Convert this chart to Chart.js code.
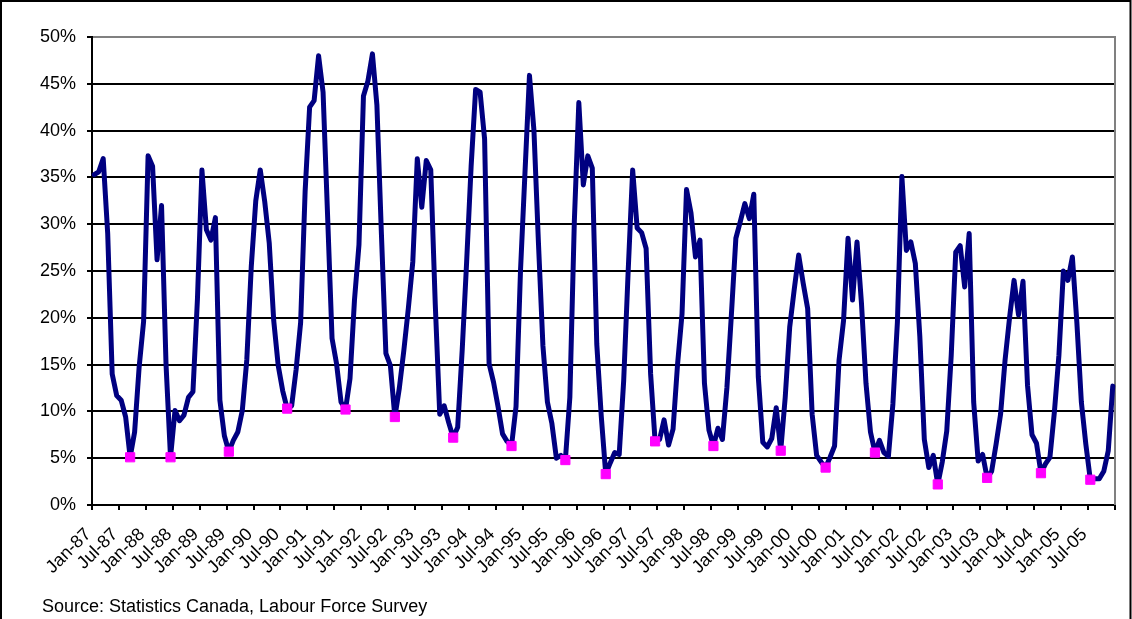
<!DOCTYPE html>
<html>
<head>
<meta charset="utf-8">
<script src="https://cdn.jsdelivr.net/npm/chart.js@4.4.1/dist/chart.umd.min.js"></script>
<style>
  html,body{margin:0;padding:0;background:#fff}
  #wrap{position:relative;width:1132px;height:619px;overflow:hidden;background:#fff}
  #ch{display:block}
  .fuente{position:absolute;left:42px;top:597px;font:18px/18px 'Liberation Sans',Arial,sans-serif;color:#000;white-space:nowrap}
</style>
</head>
<body>
<div id="wrap">
  <canvas id="ch" width="1132" height="619"></canvas>
  <div class="fuente">Source: Statistics Canada, Labour Force Survey</div>
</div>
<script>
// ---- datos: tasa mensual, ene-1987 a dic-2005 ----
const years=['87','88','89','90','91','92','93','94','95','96','97','98','99','00','01','02','03','04','05'];
const months=['Jan','Feb','Mar','Apr','May','Jun','Jul','Aug','Sep','Oct','Nov','Dec'];
const rate=[
  35.3,35.6,37.0,29.0,14.0,11.7,11.2, 9.4, 5.1, 7.8,14.7,19.6, // 1987
  37.3,36.2,26.2,32.0,15.0, 5.1,10.1, 9.0, 9.6,11.5,12.1,22.0, // 1988
  35.8,29.4,28.3,30.7,11.2, 7.4, 5.7, 6.9, 7.8,10.1,15.5,25.5, // 1989
  32.5,35.8,32.4,28.0,19.7,14.9,12.2,10.3,10.6,14.5,19.5,33.5, // 1990
  42.5,43.2,48.0,44.1,31.0,17.8,15.1,11.0,10.2,13.5,21.9,27.8, // 1991
  43.7,45.3,48.2,42.7,29.0,16.2,14.9, 9.4,12.5,16.5,21.0,26.0, // 1992
  37.0,31.8,36.8,35.8,21.5, 9.7,10.6, 8.8, 7.2, 8.3,16.5,26.0, // 1993
  36.2,44.4,44.1,39.1,15.1,13.1,10.5, 7.6, 6.8, 6.3,10.5,25.0, // 1994
  35.5,45.9,40.0,28.0,17.0,11.0, 8.7, 5.0, 5.3, 4.8,11.5,30.3, // 1995
  43.0,34.2,37.3,36.0,17.2, 9.5, 3.3, 4.5, 5.6, 5.4,13.3,25.0, // 1996
  35.8,29.6,29.1,27.4,14.0, 6.8, 7.0, 9.1, 6.4, 8.1,15.0,20.4, // 1997
  33.7,31.2,26.5,28.3,13.0, 8.0, 6.3, 8.2, 7.0,12.5,20.3,28.5, // 1998
  30.3,32.2,30.6,33.2,13.7, 6.7, 6.2, 7.1,10.4, 5.8,11.5,19.0, // 1999
  23.0,26.7,23.7,21.0, 9.7, 5.3, 4.6, 4.0, 5.1, 6.3,15.5,19.7, // 2000
  28.5,21.9,28.1,21.5,13.0, 7.8, 5.6, 6.9, 5.6, 5.2,10.8,19.5, // 2001
  35.1,27.2,28.1,25.8,18.0, 7.0, 4.0, 5.3, 2.2, 4.6, 7.9,16.0, // 2002
  27.0,27.7,23.3,29.0,11.0, 4.7, 5.4, 2.9, 3.6, 6.5, 9.7,15.5, // 2003
  20.0,24.0,20.3,23.9,12.8, 7.5, 6.6, 3.4, 4.4, 5.1,10.0,16.0, // 2004
  25.0,24.0,26.5,19.5,11.0, 6.5, 2.7, 2.8, 2.8, 3.6, 5.8,12.7  // 2005
];
// meses marcados en rosa (uno por año)
const lowMonths=['Sep-87','Jun-88','Jul-89','Aug-90','Sep-91','Aug-92','Sep-93','Oct-94','Oct-95','Jul-96',
  'Jun-97','Jul-98','Oct-99','Aug-00','Jul-01','Sep-02','Aug-03','Aug-04','Jul-05'];
const yTicks=[0,5,10,15,20,25,30,35,40,45,50];

const labels=[];
years.forEach(y=>months.forEach(m=>labels.push(m+'-'+y)));
const lows=labels.map((l,i)=>lowMonths.includes(l)?rate[i]:null);
const N=labels.length;

Chart.defaults.font.family="'Liberation Sans', Arial, sans-serif";
Chart.defaults.font.size=18;
Chart.defaults.color='#000';

// marco exterior y borde derecho gris del área de trazado
const marco={
  id:'marco',
  beforeDatasetsDraw(ch){
    const {ctx,chartArea:a}=ch;
    ctx.save();
    ctx.strokeStyle='#808080';ctx.lineWidth=2;
    ctx.beginPath();ctx.moveTo(a.right,a.top-1);ctx.lineTo(a.right,a.bottom);ctx.stroke();
    ctx.restore();
  },
  afterDraw(ch){
    const ctx=ch.ctx;
    ctx.save();
    ctx.strokeStyle='#000';ctx.lineWidth=2;
    ctx.beginPath();
    ctx.moveTo(1,619);ctx.lineTo(1,1);ctx.lineTo(1130.5,1);ctx.lineTo(1130.5,619);
    ctx.stroke();
    ctx.restore();
  }
};

// marca de eje cada 6 meses (la línea extra del final no trae índice)
const everySix=c=>{const i=c.index===undefined?N:c.index;return i%6===0?'#000':'rgba(0,0,0,0)';};

new Chart(document.getElementById('ch'),{
  type:'line',
  data:{labels,datasets:[
    {label:'Mínimo',data:lows,showLine:false,pointStyle:'rect',pointRadius:6.5,
     pointBackgroundColor:'#ff00ff',pointBorderColor:'#ff00ff',pointBorderWidth:1,order:0},
    {label:'Tasa',data:rate,borderColor:'#000080',borderWidth:5,pointRadius:0,tension:0,
     borderJoinStyle:'round',borderCapStyle:'round',fill:false,order:1}
  ]},
  options:{
    responsive:false,animation:false,devicePixelRatio:1,
    layout:{padding:{left:0,right:17,top:37,bottom:34}},
    plugins:{legend:{display:false},tooltip:{enabled:false}},
    scales:{
      x:{
        offset:true,
        grid:{offset:true,drawOnChartArea:false,tickLength:5,lineWidth:2,color:everySix,tickColor:everySix},
        border:{color:'#000',width:2},
        ticks:{autoSkip:false,maxRotation:45,minRotation:45,padding:14,labelOffset:-6,
          callback(v,i){return i%6===0?this.getLabelForValue(v):'';}},
        afterFit(s){s.height=80;s.paddingLeft=0;s.paddingRight=0;}
      },
      y:{
        min:0,max:50,
        afterBuildTicks(s){s.ticks=yTicks.map(v=>({value:v}));},
        ticks:{padding:11,callback:v=>v+'%'},
        grid:{lineWidth:2,tickLength:5,tickColor:'#000',
          color:c=>c.tick&&c.tick.value===50?'#808080':'#000'},
        border:{color:'#000',width:2},
        afterFit(s){s.width=92;}
      }
    }
  },
  plugins:[marco]
});
</script>
</body>
</html>
